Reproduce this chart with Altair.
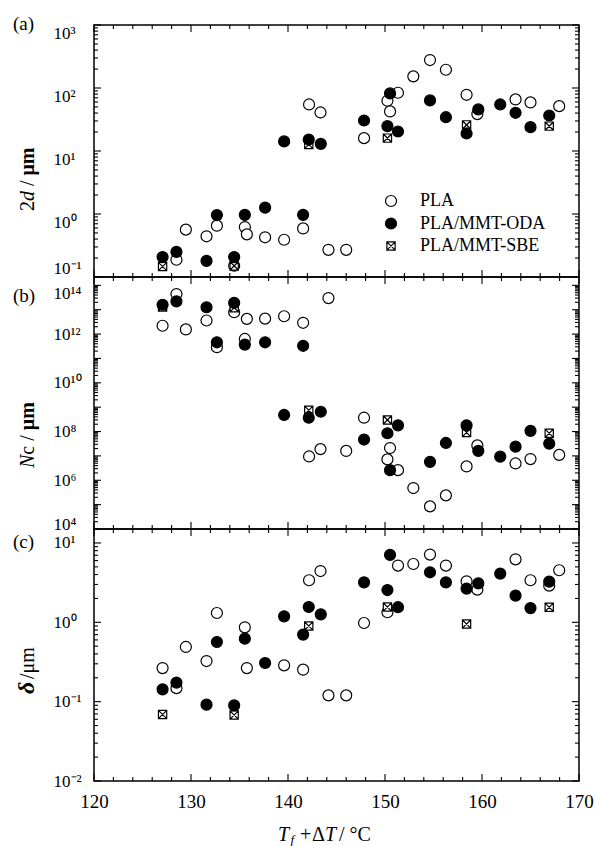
import altair as alt
import pandas as pd

SERIF = "Liberation Serif"
W, H = 485, 252
SER = ["PLA", "PLA/MMT-ODA", "PLA/MMT-SBE"]

# ---------------- data ----------------
pla_x = [127.07, 128.5, 129.47, 131.6, 132.67, 134.45, 135.55, 135.76, 137.64, 139.6,
         141.56, 142.17, 143.35, 144.17, 146.0, 147.84, 150.25, 150.52, 151.34, 152.92,
         154.64, 156.28, 158.41, 159.52, 163.46, 165.0, 166.93, 167.96]
pla_a = [None, 0.188, 0.565, 0.443, 0.653, 0.151, 0.62, 0.475, 0.427, 0.39,
         0.59, 54.8, 40.9, 0.27, 0.27, 16.0, 62.7, 42.5, 84, 153,
         278, 195, 78, 38.5, 65.9, 59, None, 51.5]
pla_b = [2.2e12, 4.4e13, 1.55e12, 3.6e12, 2.9e11, 7.9e12, 6.3e11, 4.2e12, 4.3e12, 5.4e12,
         2.9e12, 9.5e6, 1.9e7, 3.0e13, 1.6e7, 3.7e8, 7.2e6, 2.1e7, 2.6e6, 4.8e5,
         8.5e4, 2.4e5, 3.7e6, 2.7e7, 4.9e6, 7.4e6, None, 1.1e7]
pla_c = [0.265, 0.148, 0.489, 0.325, 1.31, None, 0.865, 0.265, None, 0.287,
         0.253, 3.39, 4.43, 0.12, 0.12, 0.98, 1.34, None, 5.19, 5.43,
         7.14, 5.19, 3.29, 2.58, 6.22, 3.39, 2.9, 4.53]

oda_x = [127.07, 128.5, 131.6, 132.67, 134.45, 135.55, 137.64, 139.6, 141.56, 142.14,
         143.38, 147.84, 150.25, 150.52, 151.34, 154.64, 156.28, 158.41, 159.62, 161.88,
         163.46, 165.0, 166.93]
oda_a = [0.207, 0.25, 0.18, 0.96, 0.207, 0.97, 1.26, 14.2, 0.97, 15.2,
         13.0, 30.5, 24.8, 82, 20.4, 63.5, 34.4, 19, 45.7, 54.8,
         40.4, 23.9, 36.6]
oda_b = [1.6e13, 2.2e13, 1.26e13, 4.6e11, 1.9e13, 3.7e11, 4.6e11, 4.8e8, 3.3e11, 3.7e8,
         6.5e8, 4.7e7, 8.5e7, 2.6e6, 1.8e8, 5.7e6, 3.4e7, 1.8e8, 1.6e7, 9.3e6,
         2.4e7, 1.07e8, 3.2e7]
oda_c = [0.143, 0.174, 0.0917, 0.565, 0.0898, 0.622, 0.307, 1.19, 0.70, 1.56,
         1.26, 3.19, 2.55, 7.07, 1.55, 4.27, 3.19, 2.66, 3.1, 4.11,
         2.17, 1.51, 3.26]

sbe_x = [127.07, 134.45, 142.14, 150.25, 158.41, 166.93]
sbe_a = [0.147, 0.15, 12.7, 16.0, 26.0, 24.8]
sbe_b = [1.3e13, 1.2e13, 7.5e8, 3.0e8, 9.1e7, 8.5e7]
sbe_c = [0.069, 0.068, 0.90, 1.56, 0.953, 1.55]

# axis tick values
x_major = [120, 130, 140, 150, 160, 170]
x_minor = [122, 124, 126, 128, 132, 134, 136, 138, 142, 144, 146, 148,
           152, 154, 156, 158, 162, 164, 166, 168]
ya_major = [0.1, 1, 10, 100, 1000]
yb_major = [1e4, 1e5, 1e6, 1e7, 1e8, 1e9, 1e10, 1e11, 1e12, 1e13, 1e14]
yb_label = [1e4, 1e6, 1e8, 1e10, 1e12, 1e14]
yc_major = [0.01, 0.1, 1, 10]


def minors(lo_exp, hi_exp):
    return [k * 10.0 ** e for e in range(lo_exp, hi_exp) for k in range(2, 10)]


ya_minor = minors(-1, 3)
yb_minor = minors(4, 14)
yc_minor = minors(-2, 1)

SUP = {"-": "\u207b", "0": "\u2070", "1": "\u00b9", "2": "\u00b2", "3": "\u00b3",
       "4": "\u2074", "5": "\u2075", "6": "\u2076", "7": "\u2077", "8": "\u2078", "9": "\u2079"}


def sup_expr(exps):
    expr = "''"
    for e in exps:
        s = "10" + "".join(SUP[c] for c in str(e))
        expr = "round(log(datum.value)/LN10) == %d ? '%s' : (%s)" % (e, s, expr)
    return expr


def frame(vals):
    rows = []
    for s, xv, yv in vals:
        for a, b in zip(xv, yv):
            if b is not None:
                rows.append({"x": a, "y": b, "s": s})
    return pd.DataFrame(rows)


SBE_PATH = ("M-0.75,-0.75L0.75,-0.75L0.75,0.75L-0.75,0.75Z"
            "M-0.75,-0.75L0.75,0.75M0.75,-0.75L-0.75,0.75")
shape_scale = alt.Scale(domain=SER, range=["circle", "circle", SBE_PATH])
fill_scale = alt.Scale(domain=SER, range=["white", "black", "white"])
stroke_scale = alt.Scale(domain=SER, range=["black", "black", "black"])
xs = alt.Scale(type="linear", domain=[120, 170], nice=False, zero=False)

ONE = alt.Data(values=[{"k": 0}])


def txt(s, x, y, size=20, style="normal", weight="normal", angle=0, baseline="alphabetic"):
    return alt.Chart(ONE).mark_text(
        text=s, font=SERIF, fontSize=size, fontStyle=style, fontWeight=weight,
        angle=angle, align="left", baseline=baseline, color="black"
    ).encode(x=alt.value(x), y=alt.value(y))


def rules_y(vals, ys, yaxis, L):
    d = pd.DataFrame({"y": vals})
    base = alt.Chart(d).mark_rule(color="black", strokeWidth=1.1)
    left = base.encode(y=alt.Y("y:Q", scale=ys, axis=yaxis), x=alt.value(0), x2=alt.value(L))
    right = base.encode(y=alt.Y("y:Q", scale=ys, axis=yaxis), x=alt.value(W - L), x2=alt.value(W))
    return [left, right]


def rules_x(vals, xaxis, L):
    d = pd.DataFrame({"x": vals})
    base = alt.Chart(d).mark_rule(color="black", strokeWidth=1.1)
    top = base.encode(x=alt.X("x:Q", scale=xs, axis=xaxis), y=alt.value(0), y2=alt.value(L))
    bot = base.encode(x=alt.X("x:Q", scale=xs, axis=xaxis), y=alt.value(H - L), y2=alt.value(H))
    return [top, bot]


def panel(df, ys, ymaj_lab, exps, ymaj, ymin, baseline_cond, show_x, legend, texts):
    xaxis = alt.Axis(values=x_major, format="d", labelFontSize=19, labelPadding=11,
                     ticks=False, tickSize=0, domain=False, grid=False, title=None,
                     labelFlush=False, labelFont=SERIF, labelColor="black",
                     labelOverlap=False) if show_x else None
    yaxis = alt.Axis(values=ymaj_lab, labelExpr=sup_expr(exps), labelAlign="left",
                     labelPadding=41, ticks=False, tickSize=0, domain=False, grid=False,
                     title=None, labelFontSize=17, labelFont=SERIF, labelColor="black",
                     labelBaseline=baseline_cond, labelOverlap=False)
    pts = alt.Chart(df).mark_point(strokeWidth=1.2, opacity=1, size=121).encode(
        x=alt.X("x:Q", scale=xs, axis=xaxis),
        y=alt.Y("y:Q", scale=ys, axis=yaxis),
        shape=alt.Shape("s:N", scale=shape_scale, legend=legend),
        fill=alt.Fill("s:N", scale=fill_scale, legend=legend),
        stroke=alt.Stroke("s:N", scale=stroke_scale, legend=legend),
    )
    layers = [pts]
    layers += rules_y(ymaj, ys, yaxis, 7) + rules_y(ymin, ys, yaxis, 4)
    layers += rules_x(x_major, xaxis, 7) + rules_x(x_minor, xaxis, 4)
    layers += texts
    return alt.layer(*layers).properties(width=W, height=H)


legend = alt.Legend(orient="none", legendX=288, legendY=167, title=None,
                    labelFont=SERIF, labelFontSize=18, labelColor="black",
                    symbolSize=121, symbolStrokeWidth=1.2, symbolStrokeColor="black",
                    labelOffset=20, rowPadding=4.5, padding=0)

df_a = frame([("PLA", pla_x, pla_a), ("PLA/MMT-SBE", sbe_x, sbe_a), ("PLA/MMT-ODA", oda_x, oda_a)])
df_b = frame([("PLA", pla_x, pla_b), ("PLA/MMT-SBE", sbe_x, sbe_b), ("PLA/MMT-ODA", oda_x, oda_b)])
df_c = frame([("PLA", pla_x, pla_c), ("PLA/MMT-SBE", sbe_x, sbe_c), ("PLA/MMT-ODA", oda_x, oda_c)])

ys_a = alt.Scale(type="log", domain=[0.1, 1000], nice=False)
ys_b = alt.Scale(type="log", domain=[1e4, 2.2e14], nice=False)
ys_c = alt.Scale(type="log", domain=[0.01, 15], nice=False)

base_a = {"condition": {"test": "datum.value < 0.5", "value": "bottom"}, "value": "top"}
base_b = {"condition": [{"test": "datum.value > 1e13", "value": "top"},
                        {"test": "datum.value < 1e5", "value": "alphabetic"}],
          "value": "middle"}
base_c = "middle"

texts_a = [
    txt("(a)", -81, 5, size=19),
    txt("2", -60, 186, angle=270),
    txt("d", -60, 176, style="italic", angle=270),
    txt("/", -60, 161, angle=270),
    txt("\u03bcm", -60, 150.5, weight="bold", angle=270),
]
texts_b = [
    txt("(b)", -81, 25, size=19),
    txt("N", -60, 191, style="italic", angle=270),
    txt("c", -60, 177.7, angle=270),
    txt("/", -60, 163.8, angle=270),
    txt("\u03bcm", -60, 153.2, weight="bold", angle=270),
]
texts_c = [
    txt("(c)", -81, 19, size=19),
    txt("\u03b4", -60, 165, size=24, style="italic", weight="bold", angle=270),
    txt("/\u03bcm", -60, 150, angle=270),
    txt("T", 184, 312, style="italic"),
    txt("f", 196.5, 315, size=13, style="italic"),
    txt("+", 206, 312),
    txt("\u0394", 218, 312),
    txt("T", 231, 312, style="italic"),
    txt("/ \u00b0C", 245, 312),
]

pa = panel(df_a, ys_a, ya_major, [-1, 0, 1, 2, 3], ya_major, ya_minor, base_a, False, legend, texts_a)
pb = panel(df_b, ys_b, yb_label, [4, 6, 8, 10, 12, 14], yb_major, yb_minor, base_b, False, None, texts_b)
pc = panel(df_c, ys_c, yc_major, [-2, -1, 0, 1], yc_major, yc_minor, base_c, True, None, texts_c)

chart = alt.vconcat(pa, pb, pc, spacing=0, bounds="flush").resolve_scale(
    shape="independent", fill="independent", stroke="independent"
).resolve_legend(shape="independent", fill="independent", stroke="independent").properties(
    padding={"left": 12, "top": 14, "right": 0, "bottom": 0},
    background="white",
).configure_view(stroke="black", strokeWidth=1.5)

chart.save("out.html", embed_options={"renderer": "svg", "actions": False})
